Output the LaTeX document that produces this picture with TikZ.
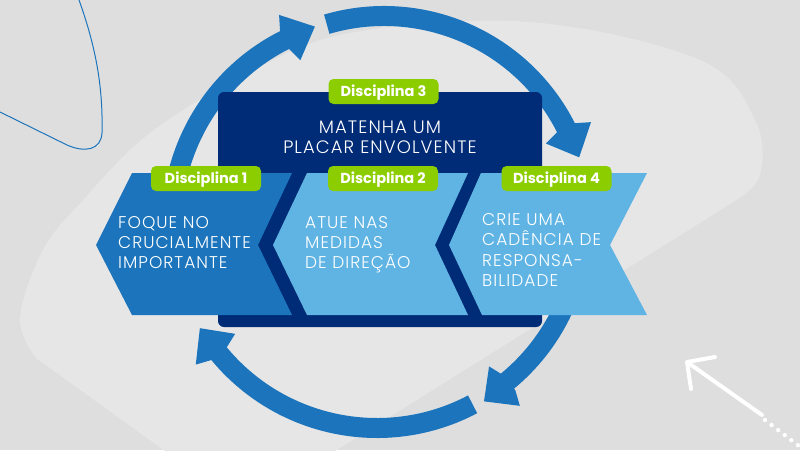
\documentclass[tikz,border=0pt]{standalone}
\usepackage{fontspec}
\setmainfont{Poppins}
\IfFontExistsTF{Poppins Light}{\newfontfamily\lightfont{Poppins Light}[LetterSpace=6]}{\newfontfamily\lightfont{Poppins}[LetterSpace=6]}
\definecolor{bg}{RGB}{222,222,222}
\definecolor{bglight}{RGB}{230,230,230}
\definecolor{midblue}{RGB}{28,117,188}
\definecolor{navy}{RGB}{0,43,118}
\definecolor{lightblue}{RGB}{96,180,228}
\definecolor{lime}{RGB}{140,205,0}
\newcommand\ArcHead[3]{%
  \fill[midblue] (#1:{#3+1}) -- (#2:{#3+25}) -- ({#2+1.6}:{#3+10}) -- ({#2+1.6}:{#3-10}) -- (#2:{#3-25}) -- cycle;}
\begin{document}
\begin{tikzpicture}[x=1pt,y=-1pt,
  arcline/.style={draw=midblue, line width=20pt},
  discbox/.style={fill=lime, rounded corners=5pt, minimum width=110pt, minimum height=25pt, inner sep=0pt,
    text=white, font=\bfseries\fontsize{14.5}{16}\selectfont, text height=10.5pt, text depth=0pt},
  bodytext/.style={text=white, inner sep=0pt, font=\lightfont\fontsize{17}{20}\selectfont},
  whitearrow/.style={white, line width=4pt, line cap=round, line join=round}]
\useasboundingbox (0,0) rectangle (800,450);
\clip (0,0) rectangle (800,450);
\fill[bg] (0,0) rectangle (800,450);
\fill[bglight] plot[smooth, tension=0.6] coordinates {(36,358) (20,318) (43,250) (83,200) (150,133) (250,72) (350,33) (530,22) (700,60) (755,120) (760,175) (735,201)} -- (244,508) -- cycle;
% thin decorative line
\draw[midblue, line width=1pt] (79,0) .. controls (97,50) and (103,90) .. (102,133) .. controls (101,150) and (85,153) .. (67,145) -- (0,112);
% white arrow
\draw[whitearrow] (762,415) -- (687,362);
\draw[whitearrow] (715,357) -- (687,362) -- (691,389);
\draw[white, line width=4.4pt, line cap=round, dash pattern=on 0pt off 8.3pt] (765,420) -- (812,456);
% cycle arrows
\begin{scope}[shift={(377,223)}, yscale=-1]
  \draw[arcline] (200:205) arc[start angle=200, end angle=114, radius=205];
  \ArcHead{107.55}{115.2}{205}
  \draw[arcline] (5:205) arc[start angle=5, end angle=-51, radius=205];
  \ArcHead{-59.04}{-52}{207}
  \draw[arcline] (-62.2:205) arc[start angle=-62.2, end angle=-141, radius=205];
  \ArcHead{-149.3}{-142}{205}
\end{scope}
\begin{scope}[shift={(384,220)}, yscale=-1]
  \draw[arcline] (106.3:204) arc[start angle=106.3, end angle=24, radius=204];
  \ArcHead{17.8}{25.3}{204}
\end{scope}
% navy box
\fill[navy, rounded corners=6pt] (218,92) rectangle (542,327);
% chevrons
\fill[midblue] (132,173) -- (292,173) -- (258,245) -- (292,315) -- (132,315) -- (96,245) -- cycle;
\fill[lightblue] (307,173) -- (468,173) -- (435,245) -- (468,315) -- (307,315) -- (273,245) -- cycle;
\fill[lightblue] (481,173) -- (647,173) -- (610,245) -- (647,315) -- (482,315) -- (449,245) -- cycle;
% labels
\node[discbox] (d1) at (206,178.5) {Disciplina 1};
\node[discbox] (d2) at (383,178.5) {Disciplina 2};
\node[discbox] (d3) at (383.5,91.5) {Disciplina 3};
\node[discbox] (d4) at (556.5,178.5) {Disciplina 4};
% texts
\node[bodytext, anchor=base] (t3) at (380,133) {\parbox[t]{280pt}{\fontsize{18}{20}\selectfont\centering MATENHA UM\\PLACAR ENVOLVENTE}};
\node[bodytext, anchor=base west] (t1) at (118,228) {\parbox[t]{170pt}{\raggedright FOQUE NO\\CRUCIALMENTE\\IMPORTANTE}};
\node[bodytext, anchor=base west] (t2) at (305,228) {\parbox[t]{170pt}{\raggedright ATUE NAS\\MEDIDAS\\DE DIREÇÃO}};
\node[bodytext, anchor=base west] (t4) at (482,225) {\parbox[t]{170pt}{\fontsize{17}{20.6}\selectfont\raggedright CRIE UMA\\CADÊNCIA DE\\RESPONSA-\\BILIDADE}};
\end{tikzpicture}
\end{document}
